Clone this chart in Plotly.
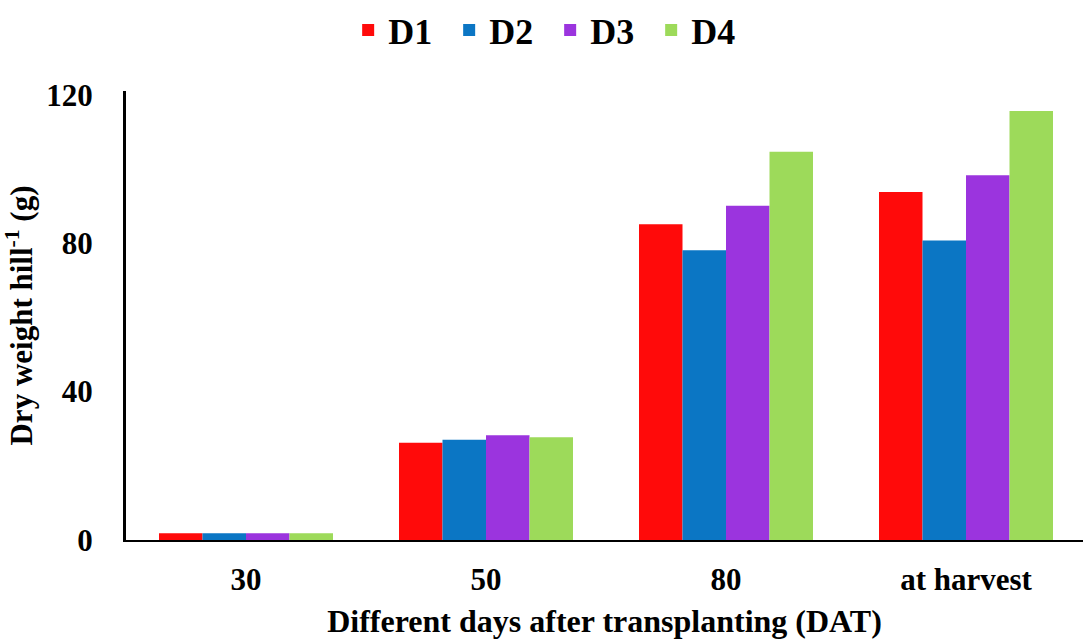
import plotly.graph_objects as go

# Sampling stages and treatments
stages = ["30", "50", "80", "at harvest"]
treatments = ["D1", "D2", "D3", "D4"]

# Dry weight per hill (g) for each treatment at each stage
d1 = [1.8, 26.2, 85.1, 93.8]
d2 = [1.8, 27.0, 78.1, 80.7]
d3 = [1.8, 28.2, 90.1, 98.3]
d4 = [1.8, 27.7, 104.6, 115.6]

series = [d1, d2, d3, d4]
colors = ["#FF0A0A", "#0B76C4", "#9B34DE", "#9DDA5A"]

y_ticks = [0, 40, 80, 120]

FONT = "Liberation Serif, Times New Roman, serif"

fig = go.Figure()
for name, vals, col in zip(treatments, series, colors):
    fig.add_trace(go.Bar(
        name=name,
        x=stages,
        y=vals,
        marker=dict(color=col, line=dict(width=0)),
    ))

fig.update_layout(
    width=1083,
    height=639,
    margin=dict(l=126, r=0, t=91, b=99),
    paper_bgcolor="white",
    plot_bgcolor="white",
    barmode="group",
    bargap=0.275,
    bargroupgap=0,
    font=dict(family=FONT, color="black", size=31),
    legend=dict(
        orientation="h",
        xref="container",
        yref="container",
        x=0.508,
        xanchor="center",
        y=1.0,
        yanchor="top",
        font=dict(family=FONT, size=36, color="black", weight="bold"),
        entrywidth=56,
        entrywidthmode="pixels",
        itemclick=False,
    ),
    showlegend=True,
)

fig.update_xaxes(
    type="category",
    range=[-0.5, 3.4875],
    showline=True,
    linecolor="black",
    linewidth=2,
    showgrid=False,
    ticks="",
    ticklabelstandoff=11,
    tickfont=dict(family=FONT, size=31, color="black", weight="bold"),
    title=dict(
        text="Different days after transplanting (DAT)",
        font=dict(family=FONT, size=32, color="black", weight="bold"),
        standoff=14,
    ),
)

fig.update_yaxes(
    range=[0, 121],
    tickvals=y_ticks,
    ticktext=[str(v) for v in y_ticks],
    showline=True,
    linecolor="black",
    linewidth=3,
    showgrid=False,
    zeroline=False,
    ticks="",
    ticklabelstandoff=24,
    tickfont=dict(family=FONT, size=31, color="black", weight="bold"),
    title=dict(
        text="Dry weight hill<sup>-1</sup> (g)",
        font=dict(family=FONT, size=31, color="black", weight="bold"),
        standoff=10,
    ),
)

fig.write_html("out.html")
